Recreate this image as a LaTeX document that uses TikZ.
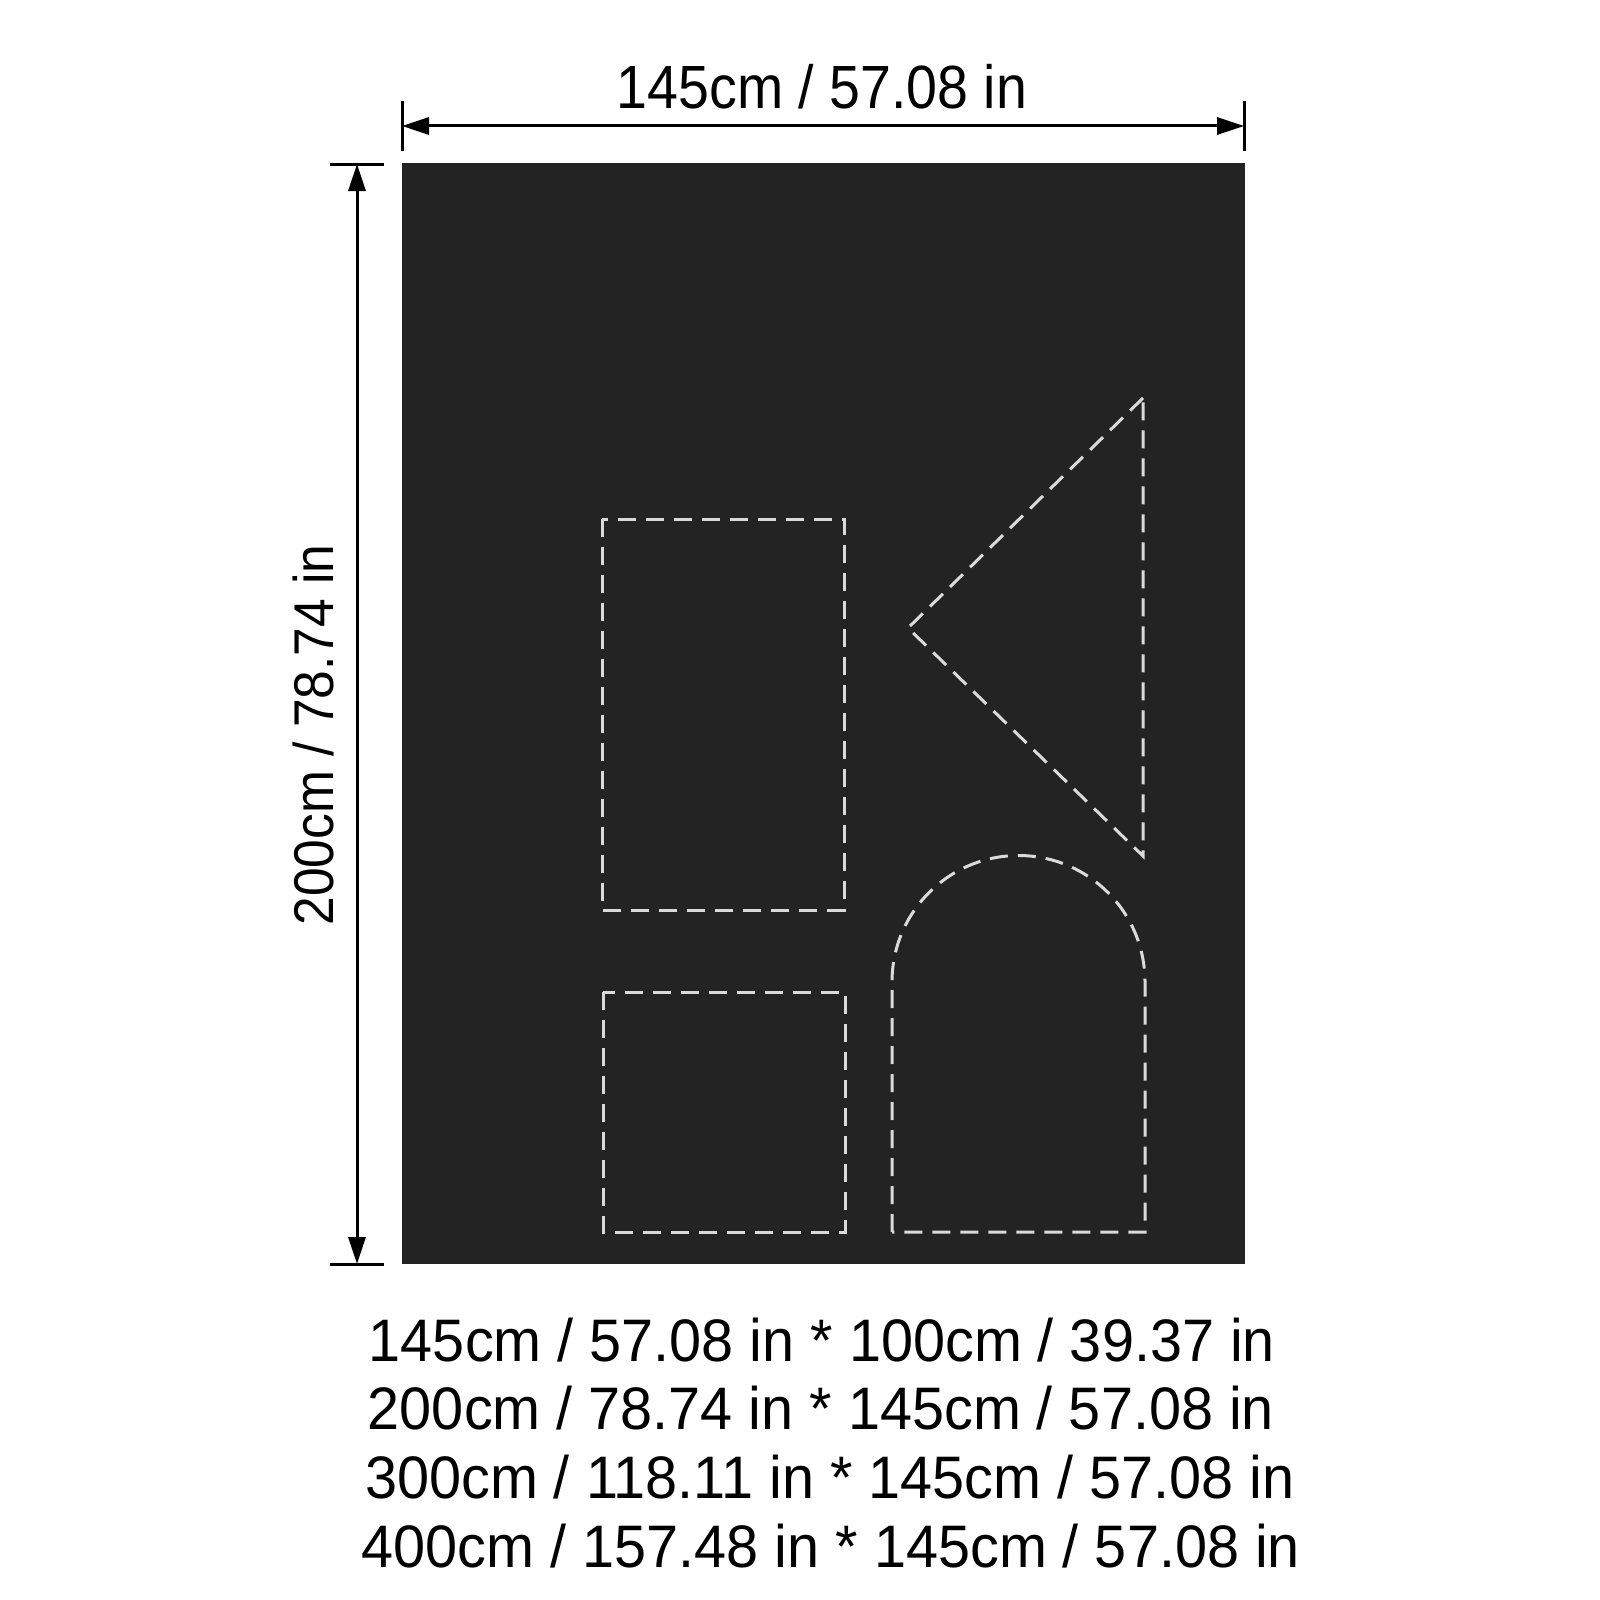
\documentclass[tikz,border=0pt]{standalone}
\usepackage{fontspec}
\setmainfont{Liberation Sans}
\newfontfamily\topfont[FakeStretch=0.91]{Liberation Sans}
\newfontfamily\vertfont[FakeStretch=0.92]{Liberation Sans}
\newfontfamily\botfont[FakeStretch=0.96]{Liberation Sans}
\usetikzlibrary{arrows.meta}
\definecolor{rugcol}{RGB}{35,35,35}
\definecolor{stitch}{RGB}{218,218,218}
\tikzset{
  dimline/.style={line width=1.5pt, black, {Triangle[length=13.5pt,width=8.5pt]}-{Triangle[length=13.5pt,width=8.5pt]}},
  tickline/.style={line width=1.5pt, black},
  stitchline/.style={line width=1.5pt, stitch, dash pattern=on 9pt off 5pt, line join=miter},
  lbl/.style={inner sep=0pt, anchor=base, text=black}
}
\begin{document}
\begin{tikzpicture}[x=0.5pt,y=-0.5pt]
\useasboundingbox (0,0) rectangle (1600,1600);
\fill[white] (0,0) rectangle (1600,1600);
% rug
\fill[rugcol] (402,163) rectangle (1245,1264);
% top dimension
\coordinate (tl1) at (402,101); \coordinate (tl2) at (402,151);
\coordinate (tr1) at (1244,101); \coordinate (tr2) at (1244,151);
\coordinate (ta) at (402,126); \coordinate (tb) at (1244,126);
\draw[tickline] (tl1) -- (tl2);
\draw[tickline] (tr1) -- (tr2);
\draw[dimline] (ta) -- (tb);
\node[lbl, font=\topfont\fontsize{30.5}{36}\selectfont] (toplabel) at (822,109) {145cm / 57.08 in};
% left dimension
\coordinate (lt1) at (330,164); \coordinate (lt2) at (384,164);
\coordinate (lb1) at (330,1264); \coordinate (lb2) at (384,1264);
\coordinate (la) at (357,164); \coordinate (lb) at (357,1264);
\draw[tickline] (lt1) -- (lt2);
\draw[tickline] (lb1) -- (lb2);
\draw[dimline] (la) -- (lb);
\node[lbl, rotate=90, font=\vertfont\fontsize{28}{34}\selectfont] (leftlabel) at (333,735) {200cm / 78.74 in};
% stitched shapes
\draw[stitchline] (602,519) rectangle (844,910);
\draw[stitchline] (603,992) rectangle (845,1232);
\draw[stitchline] (1143,398) -- (908,628) -- (1143,856) -- cycle;
\draw[stitchline] (892,1232) -- (892,982) arc[start angle=180, end angle=360, radius=126.5] -- (1145,1232) -- cycle;
% size list
\node[lbl, font=\botfont\fontsize{30}{36}\selectfont] (s1) at (822,1361.5) {145cm / 57.08 in * 100cm / 39.37 in};
\node[lbl, font=\botfont\fontsize{30}{36}\selectfont] (s2) at (821,1429.5) {200cm / 78.74 in * 145cm / 57.08 in};
\node[lbl, font=\botfont\fontsize{30}{36}\selectfont] (s3) at (830,1498.5) {300cm / 118.11 in * 145cm / 57.08 in};
\node[lbl, font=\botfont\fontsize{30}{36}\selectfont] (s4) at (831,1567.5) {400cm / 157.48 in * 145cm / 57.08 in};
\end{tikzpicture}
\end{document}
